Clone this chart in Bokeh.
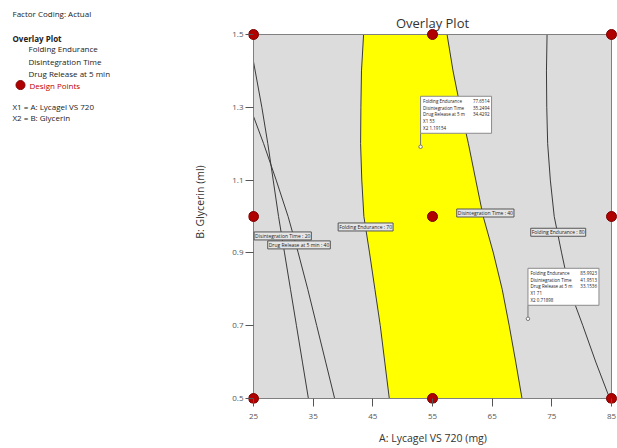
from bokeh.plotting import figure
from bokeh.models import Range1d, FixedTicker
from bokeh.layouts import row
from bokeh.embed import file_html
from bokeh.resources import INLINE
from bokeh.core.properties import value

# ---------------- data ----------------
x_ticks = [25, 35, 45, 55, 65, 75, 85]
y_ticks = [0.5, 0.7, 0.9, 1.1, 1.3, 1.5]

design_x = [25, 25, 25, 55, 55, 55, 85, 85, 85]
design_y = [0.5, 1.0, 1.5, 0.5, 1.0, 1.5, 0.5, 1.0, 1.5]

contour_y = [0.5, 0.6, 0.7, 0.8, 0.9, 1.0, 1.1, 1.2, 1.3, 1.4, 1.5]
fe70_x = [47.76, 47.0, 46.25, 45.35, 44.45, 43.5, 43.15, 42.95, 43.0, 43.1, 43.45]
dt40_x = [70.0, 68.95, 67.86, 66.68, 65.2, 63.5, 62.25, 61.02, 59.66, 58.44, 57.44]
fe80_x = [84.7, 82.37, 80.2, 77.95, 76.64, 75.4, 74.75, 74.3, 74.15, 74.1, 74.2]

dt20_y = [0.5, 0.6, 0.7, 0.8, 0.9, 1.0, 1.1, 1.2, 1.3, 1.425]
dt20_x = [34.2, 33.2, 32.2, 31.2, 30.2, 29.2, 28.3, 27.4, 26.4, 25.0]
dr40_y = [0.5, 0.6, 0.7, 0.8, 0.9, 1.0, 1.1, 1.2, 1.275]
dr40_x = [38.6, 37.1, 35.6, 34.1, 32.5, 30.8, 28.8, 26.7, 25.0]

contour_labels = ["Disintegration Time : 20", "Drug Release at 5 min : 40",
                  "Folding Endurance : 70", "Disintegration Time : 40",
                  "Folding Endurance : 80"]
contour_label_x = [29.9, 32.63, 43.79, 63.86, 76.07]
contour_label_y = [0.9466, 0.922, 0.9712, 1.0096, 0.9567]

flag_x = [53, 71]
flag_y = [1.19154, 0.71898]
flag_names = ["Folding Endurance", "Disintegration Time", "Drug Release at 5 m"]
flag_values = [["77.6514", "35.2494", "34.4292"],
               ["85.9923", "41.9513", "33.1536"]]
flag_x1 = ["53", "71"]
flag_x2 = ["1.19154", "0.71898"]

panel_title = "Factor Coding: Actual"
panel_head = "Overlay Plot"
panel_items = ["Folding Endurance", "Disintegration Time", "Drug Release at 5 min"]
panel_points = "Design Points"
panel_factors = ["X1 = A: Lycagel VS 720", "X2 = B: Glycerin"]

chart_title = "Overlay Plot"
x_label = "A: Lycagel VS 720 (mg)"
y_label = "B: Glycerin (ml)"

# ---------------- layout ----------------
FONT = value("Open Sans")
RED = "#B00000"
W_TOTAL, H_TOTAL = 617, 448
WL = 186
BOX_L, BOX_R, BOX_T, BOX_B = 253, 611, 34, 398
PAD = 5
FIG_R = W_TOTAL
sx = (BOX_R - BOX_L) / 60.0
sy = (BOX_B - BOX_T) / 1.0

# ---------------- left panel ----------------
p0 = figure(width=WL, height=H_TOTAL, x_range=Range1d(0, WL), y_range=Range1d(H_TOTAL, 0),
            toolbar_location=None, output_backend="svg", min_border=0,
            x_axis_location=None, y_axis_location=None, title=None)
p0.grid.visible = False
p0.outline_line_color = None

def ptxt(x, y, t, color="#222222", style="normal", size="8px"):
    p0.text(x=[x], y=[y], text=[t], text_font=FONT, text_font_size=size,
            text_color=color, text_font_style=style, text_baseline="middle", text_align="left")

ptxt(12, 15, panel_title)
ptxt(12, 42, panel_head, style="bold")
for i, t in enumerate(panel_items):
    ptxt(28, 53.5 + 14 * i, t)
p0.scatter(x=[20], y=[94], size=9, fill_color=RED, line_color="#800000")
ptxt(29, 94, panel_points, color="#C00000")
for i, t in enumerate(panel_factors):
    ptxt(12, 117.5 + 13 * i, t)

# ---------------- main plot ----------------
frame_l = BOX_L - PAD - WL
x0 = 25 - PAD / sx
x1 = 85 + (FIG_R - BOX_R) / sx
y0 = 0.5 - PAD / sy
y1 = 1.5 + BOX_T / sy

p = figure(width=W_TOTAL - WL, height=H_TOTAL, x_range=Range1d(x0, x1), y_range=Range1d(y0, y1),
           toolbar_location=None, output_backend="svg", title=None,
           min_border_left=frame_l, min_border_right=0, min_border_top=0,
           min_border_bottom=H_TOTAL - (BOX_B + PAD))
p.grid.visible = False
p.outline_line_color = None
p.background_fill_color = "white"
p.border_fill_color = "white"

# axes
for ax in (p.xaxis, p.yaxis):
    ax.axis_line_color = None
    ax.major_tick_in = PAD
    ax.major_tick_out = 3
    ax.major_tick_line_color = "#555555"
    ax.minor_tick_line_color = None
    ax.major_label_text_font = "Open Sans"
    ax.major_label_text_font_size = "8px"
    ax.major_label_text_color = "#555555"
    ax.axis_label_text_font = "Open Sans"
    ax.axis_label_text_font_size = "10.5px"
    ax.axis_label_text_font_style = "normal"
    ax.axis_label_text_color = "#333333"
p.xaxis.ticker = FixedTicker(ticks=x_ticks)
p.yaxis.ticker = FixedTicker(ticks=y_ticks)
p.xaxis.major_label_standoff = 7
p.xaxis.axis_label_standoff = 9
p.yaxis.major_label_standoff = 2
p.yaxis.axis_label_standoff = 22
p.xaxis.axis_label = x_label
p.yaxis.axis_label = y_label

# background box
p.quad(left=[25], right=[85], bottom=[0.5], top=[1.5], fill_color="#DCDCDC", line_color=None)

# yellow feasible region
px = fe70_x + dt40_x[::-1]
py = contour_y + contour_y[::-1]
p.patch(px, py, fill_color="#FFFF00", line_color=None)

LC = "#3A3A3A"
for xs, ys in ((fe70_x, contour_y), (dt40_x, contour_y), (fe80_x, contour_y),
               (dt20_x, dt20_y), (dr40_x, dr40_y)):
    p.line(xs, ys, line_color=LC, line_width=1)

# box outline
p.quad(left=[25], right=[85], bottom=[0.5], top=[1.5], fill_color=None,
       line_color="#808080", line_width=1)

# contour labels
p.text(x=contour_label_x, y=contour_label_y, text=contour_labels, text_font=FONT,
       text_font_size="5px", text_color="#222222", text_align="center", text_baseline="middle",
       background_fill_color="#E6E6E6", border_line_color="#555555", padding=1)

# flags
for k in range(2):
    fx, fy = flag_x[k], flag_y[k]
    bl = fx
    br = fx + 71 / sx
    bb = fy + 13.5 / sy
    bt = bb + 37 / sy
    p.segment(x0=[fx], y0=[fy], x1=[fx], y1=[bb], line_color="#777777", line_width=1)
    p.scatter(x=[fx], y=[fy], size=3.5, fill_color="white", line_color="#777777")
    p.quad(left=[bl], right=[br], bottom=[bb], top=[bt], fill_color="white",
           line_color="#8A8A8A", line_width=1)
    for i in range(3):
        yy = bt - (4.6 + 6.8 * i) / sy
        p.text(x=[bl + 2.5 / sx], y=[yy], text=[flag_names[i]], text_font=FONT,
               text_font_size="4.5px", text_color="#222222", text_baseline="middle")
        p.text(x=[br - 2 / sx], y=[yy], text=[flag_values[k][i]], text_font=FONT,
               text_font_size="4.5px", text_color="#222222", text_baseline="middle",
               text_align="right")
    p.text(x=[bl + 2.5 / sx], y=[bt - (4.6 + 6.8 * 3) / sy], text=["X1   " + flag_x1[k]],
           text_font=FONT, text_font_size="4.5px", text_color="#222222", text_baseline="middle")
    p.text(x=[bl + 2.5 / sx], y=[bt - (4.6 + 6.8 * 4) / sy], text=["X2   " + flag_x2[k]],
           text_font=FONT, text_font_size="4.5px", text_color="#222222", text_baseline="middle")

# design points
p.scatter(x=design_x, y=design_y, size=10, fill_color=RED, line_color="#7A0000", line_width=1)

# title
p.text(x=[55], y=[1.5 + 12 / sy], text=[chart_title], text_font=FONT, text_font_size="13px",
       text_color="#333333", text_align="center", text_baseline="middle")

layout = row(p0, p)
open("out.html", "w").write(file_html(layout, INLINE))
